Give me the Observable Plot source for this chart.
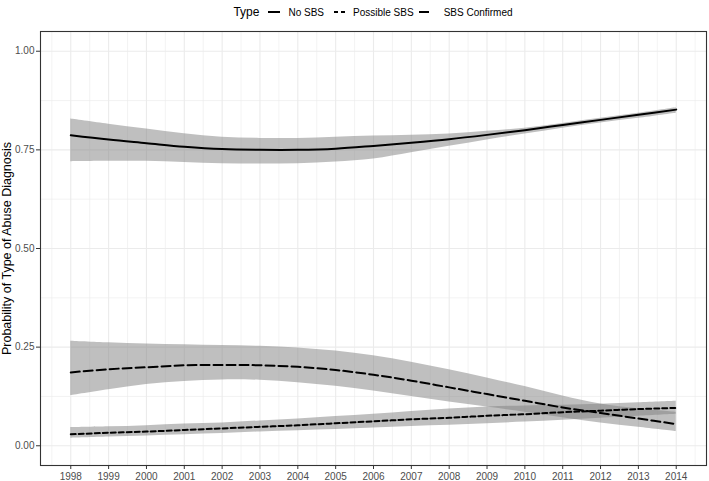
<!DOCTYPE html>
<html>
<head>
<meta charset="utf-8">
<script src="https://cdn.jsdelivr.net/npm/d3@7"></script>
<script src="https://cdn.jsdelivr.net/npm/@observablehq/plot@0.6"></script>
<style>
  body { margin: 0; background: #fff; font-family: "Liberation Sans", Arial, sans-serif; }
  #legend { height: 24px; width: 709px; display: flex; align-items: center; justify-content: center; padding-left: 37px; box-sizing: border-box; }
  #legend .title { font-size: 12px; color: #000; margin-right: 9px; }
  #legend .lab { font-size: 10px; color: #000; }
  #legend svg { display: block; }
</style>
</head>
<body>
<div id="legend"></div>
<div id="chart"></div>
<script>
const years = [1998, 1999, 2000, 2001, 2002, 2003, 2004, 2005, 2006, 2007, 2008, 2009, 2010, 2011, 2012, 2013, 2014];

const seriesNames = ["No SBS", "Possible SBS", "SBS Confirmed"];

const noSBS     = [0.787, 0.776, 0.767, 0.758, 0.752, 0.750, 0.750, 0.753, 0.760, 0.768, 0.777, 0.788, 0.800, 0.813, 0.826, 0.839, 0.852];
const noSBSLow  = [0.720, 0.721, 0.721, 0.718, 0.715, 0.714, 0.715, 0.719, 0.727, 0.743, 0.759, 0.775, 0.790, 0.805, 0.818, 0.830, 0.843];
const noSBSHigh = [0.828, 0.815, 0.803, 0.791, 0.782, 0.779, 0.779, 0.782, 0.785, 0.787, 0.790, 0.797, 0.805, 0.817, 0.830, 0.843, 0.857];

const possible     = [0.029, 0.033, 0.036, 0.040, 0.044, 0.048, 0.052, 0.057, 0.062, 0.067, 0.071, 0.076, 0.080, 0.085, 0.089, 0.093, 0.096];
const possibleLow  = [0.019, 0.022, 0.025, 0.028, 0.031, 0.035, 0.038, 0.041, 0.045, 0.049, 0.052, 0.056, 0.060, 0.065, 0.070, 0.075, 0.080];
const possibleHigh = [0.046, 0.048, 0.051, 0.055, 0.058, 0.063, 0.068, 0.074, 0.080, 0.087, 0.093, 0.098, 0.101, 0.103, 0.105, 0.109, 0.113];

const confirmed     = [0.186, 0.194, 0.199, 0.204, 0.205, 0.204, 0.200, 0.192, 0.180, 0.165, 0.148, 0.131, 0.114, 0.097, 0.083, 0.069, 0.055];
const confirmedLow  = [0.127, 0.142, 0.155, 0.163, 0.167, 0.166, 0.160, 0.151, 0.139, 0.125, 0.111, 0.098, 0.085, 0.071, 0.058, 0.047, 0.036];
const confirmedHigh = [0.265, 0.261, 0.258, 0.256, 0.254, 0.252, 0.248, 0.240, 0.228, 0.212, 0.193, 0.172, 0.150, 0.126, 0.106, 0.094, 0.085];

const yTicks = [0, 0.25, 0.5, 0.75, 1];
const yMinor = [0.125, 0.375, 0.625, 0.875];
const xMinor = [1997.5, ...years.map(y => y + 0.5)];

const dashes = {"No SBS": null, "Possible SBS": "5,3", "SBS Confirmed": "9,4"};

const values = [noSBS, possible, confirmed];
const lows = [noSBSLow, possibleLow, confirmedLow];
const highs = [noSBSHigh, possibleHigh, confirmedHigh];

const rows = [];
seriesNames.forEach((s, si) => {
  years.forEach((yr, i) => {
    rows.push({type: s, year: yr, p: values[si][i], lo: lows[si][i], hi: highs[si][i]});
  });
});

// Legend
const legend = document.getElementById("legend");
const t = document.createElement("span");
t.className = "title"; t.textContent = "Type";
legend.appendChild(t);
const keyGaps = [[0, 8], [10, 7], [5, 13]];
seriesNames.forEach((s, i) => {
  const ns = "http://www.w3.org/2000/svg";
  const svg = document.createElementNS(ns, "svg");
  svg.setAttribute("width", 12); svg.setAttribute("height", 10);
  svg.style.marginLeft = keyGaps[i][0] + "px";
  svg.style.marginRight = keyGaps[i][1] + "px";
  const ln = document.createElementNS(ns, "line");
  ln.setAttribute("x1", 0); ln.setAttribute("x2", 12);
  ln.setAttribute("y1", 5); ln.setAttribute("y2", 5);
  ln.setAttribute("stroke", "#000"); ln.setAttribute("stroke-width", 2);
  if (s === "Possible SBS") ln.setAttribute("stroke-dasharray", "4,3");
  if (s === "SBS Confirmed") ln.setAttribute("stroke-dasharray", "10,4");
  svg.appendChild(ln);
  legend.appendChild(svg);
  const l = document.createElement("span");
  l.className = "lab"; l.textContent = s;
  legend.appendChild(l);
});

const chart = Plot.plot({
  width: 709,
  height: 457,
  marginLeft: 40,
  marginRight: 3,
  marginTop: 7,
  marginBottom: 16,
  style: {fontFamily: "'Liberation Sans', Arial, sans-serif", background: "#fff"},
  x: {domain: [1997.2, 2014.8]},
  y: {domain: [-0.05, 1.05]},
  marks: [
    Plot.gridX(xMinor, {stroke: "#ebebeb", strokeOpacity: 1, strokeWidth: 0.6}),
    Plot.gridY(yMinor, {stroke: "#ebebeb", strokeOpacity: 1, strokeWidth: 0.6}),
    Plot.gridX(years, {stroke: "#ebebeb", strokeOpacity: 1, strokeWidth: 1.1}),
    Plot.gridY(yTicks, {stroke: "#ebebeb", strokeOpacity: 1, strokeWidth: 1.1}),
    ...seriesNames.map(s => Plot.areaY(rows.filter(d => d.type === s), {
      x: "year", y1: "lo", y2: "hi", fill: "#7f7f7f", fillOpacity: 0.5, curve: "catmull-rom"
    })),
    ...seriesNames.map(s => Plot.lineY(rows.filter(d => d.type === s), {
      x: "year", y: "p", stroke: "#000", strokeWidth: 2, curve: "catmull-rom",
      strokeDasharray: dashes[s]
    })),
    Plot.frame({stroke: "#333", strokeWidth: 1.1}),
    Plot.axisX({ticks: years, tickFormat: d => String(d), tickSize: 4, fontSize: 10, tickPadding: 3, label: null, color: "#4d4d4d", stroke: "#333"}),
    Plot.axisY({ticks: yTicks, tickFormat: d3.format(".2f"), tickSize: 4, fontSize: 10, tickPadding: 2, label: "Probability of Type of Abuse Diagnosis", labelAnchor: "center", labelArrow: "none", labelOffset: 38, color: "#4d4d4d", stroke: "#333"})
  ]
});
document.getElementById("chart").appendChild(chart);
chart.querySelectorAll("g[aria-label='y-axis label'] text").forEach(e => { e.setAttribute("fill", "#000"); e.style.fontSize = "12.5px"; });
</script>
</body>
</html>
